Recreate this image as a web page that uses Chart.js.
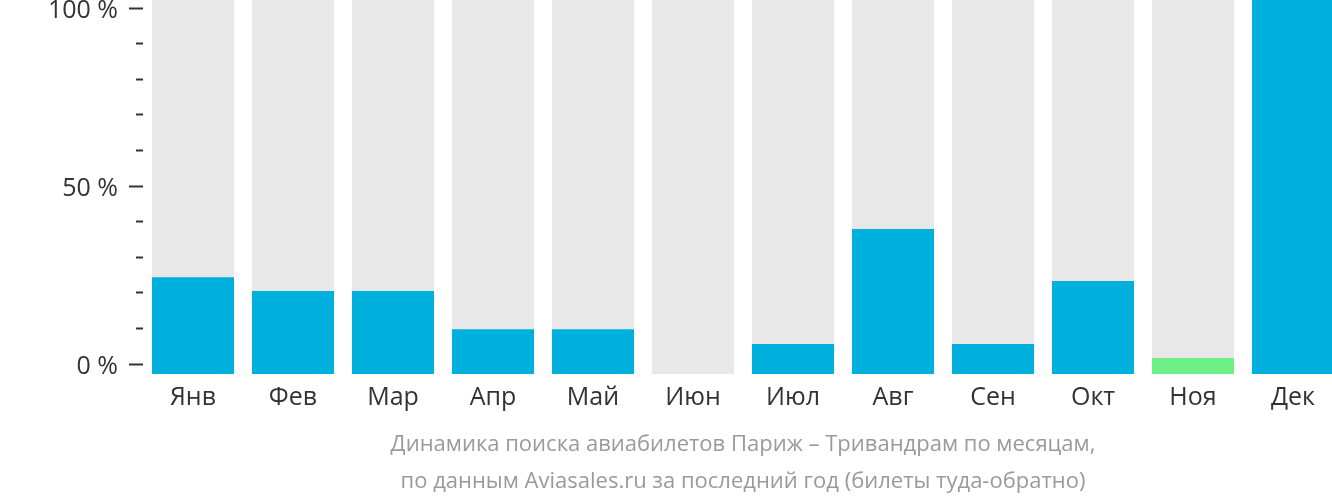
<!DOCTYPE html>
<html>
<head>
<meta charset="utf-8">
<script src="https://cdn.jsdelivr.net/npm/chart.js@4/dist/chart.umd.min.js"></script>
<style>
  html, body { margin: 0; padding: 0; background: #fff; overflow: hidden; }
  canvas { display: block; }
</style>
</head>
<body>
<canvas id="chartCanvas" width="1343" height="502"></canvas>
<script>
// axis range (bars start a little below the 0 % tick, as in the picture)
const Y_MIN = -2.8;
const Y_MAX = 102.25;

const months = ['Янв', 'Фев', 'Мар', 'Апр', 'Май', 'Июн', 'Июл', 'Авг', 'Сен', 'Окт', 'Ноя', 'Дек'];
const searchShare = [24.4, 20.5, 20.5, 9.8, 9.8, null, 5.6, 37.9, 5.6, 23.3, 1.7, 102.25];
const backgroundValues = [102.25, 102.25, 102.25, 102.25, 102.25, 102.25, 102.25, 102.25, 102.25, 102.25, 102.25, 102.25];
const yTicks = [0, 10, 20, 30, 40, 50, 60, 70, 80, 90, 100];
const yLabels = { 0: '0 %', 50: '50 %', 100: '100 %' };
const titleLines = [
    'Динамика поиска авиабилетов Париж – Тривандрам по месяцам,',
    'по данным Aviasales.ru за последний год (билеты туда-обратно)'
];

const BLUE = '#00b0dc';
const GREEN = '#6ef087';
const GREY = '#e8e8e8';

const barColors = months.map((m) => m === 'Ноя' ? GREEN : BLUE);

const ctx = document.getElementById('chartCanvas').getContext('2d');

new Chart(ctx, {
    type: 'bar',
    data: {
        labels: months,
        datasets: [{
            data: searchShare,
            backgroundColor: barColors,
            base: Y_MIN,
            grouped: false,
            order: 0,
            barPercentage: 0.82,
            categoryPercentage: 1
        }, {
            data: backgroundValues,
            backgroundColor: GREY,
            base: Y_MIN,
            grouped: false,
            order: 1,
            barPercentage: 0.82,
            categoryPercentage: 1
        }]
    },
    options: {
        responsive: false,
        animation: false,
        devicePixelRatio: 1,
        layout: { padding: 0 },
        plugins: {
            legend: { display: false },
            tooltip: { enabled: false },
            title: { display: false }
        },
        scales: {
            x: {
                grid: { display: false },
                border: { display: false },
                ticks: {
                    color: '#333',
                    padding: 1,
                    font: { family: 'Open Sans', size: 25 }
                },
                title: {
                    display: true,
                    text: titleLines,
                    color: '#9a9a9a',
                    font: { family: 'Open Sans', size: 22, lineHeight: 1.68 },
                    padding: { top: 0, bottom: 2 }
                },
                afterFit: (scale) => {
                    scale.height = 128;
                    scale.paddingLeft = 0;
                    scale.paddingRight = 0;
                }
            },
            y: {
                min: Y_MIN,
                max: Y_MAX,
                afterBuildTicks: (scale) => {
                    scale.ticks = yTicks.map((v) => ({ value: v }));
                },
                grid: {
                    drawOnChartArea: false,
                    drawTicks: true,
                    tickLength: 14,
                    tickWidth: 2,
                    tickColor: '#333',
                    // short minor ticks sit next to the plot, long ones carry labels
                    tickBorderDash: (c) => (c.tick && yLabels[c.tick.value] !== undefined) ? [] : [0, 7, 7, 100]
                },
                border: { display: false },
                ticks: {
                    color: '#333',
                    padding: 11,
                    labelOffset: 3,
                    font: { family: 'Open Sans', size: 25 },
                    callback: (v) => yLabels[v] !== undefined ? yLabels[v] : ''
                },
                afterFit: (scale) => {
                    scale.width = 143;
                    scale.paddingTop = 0;
                    scale.paddingBottom = 0;
                }
            }
        }
    }
});
</script>
</body>
</html>
